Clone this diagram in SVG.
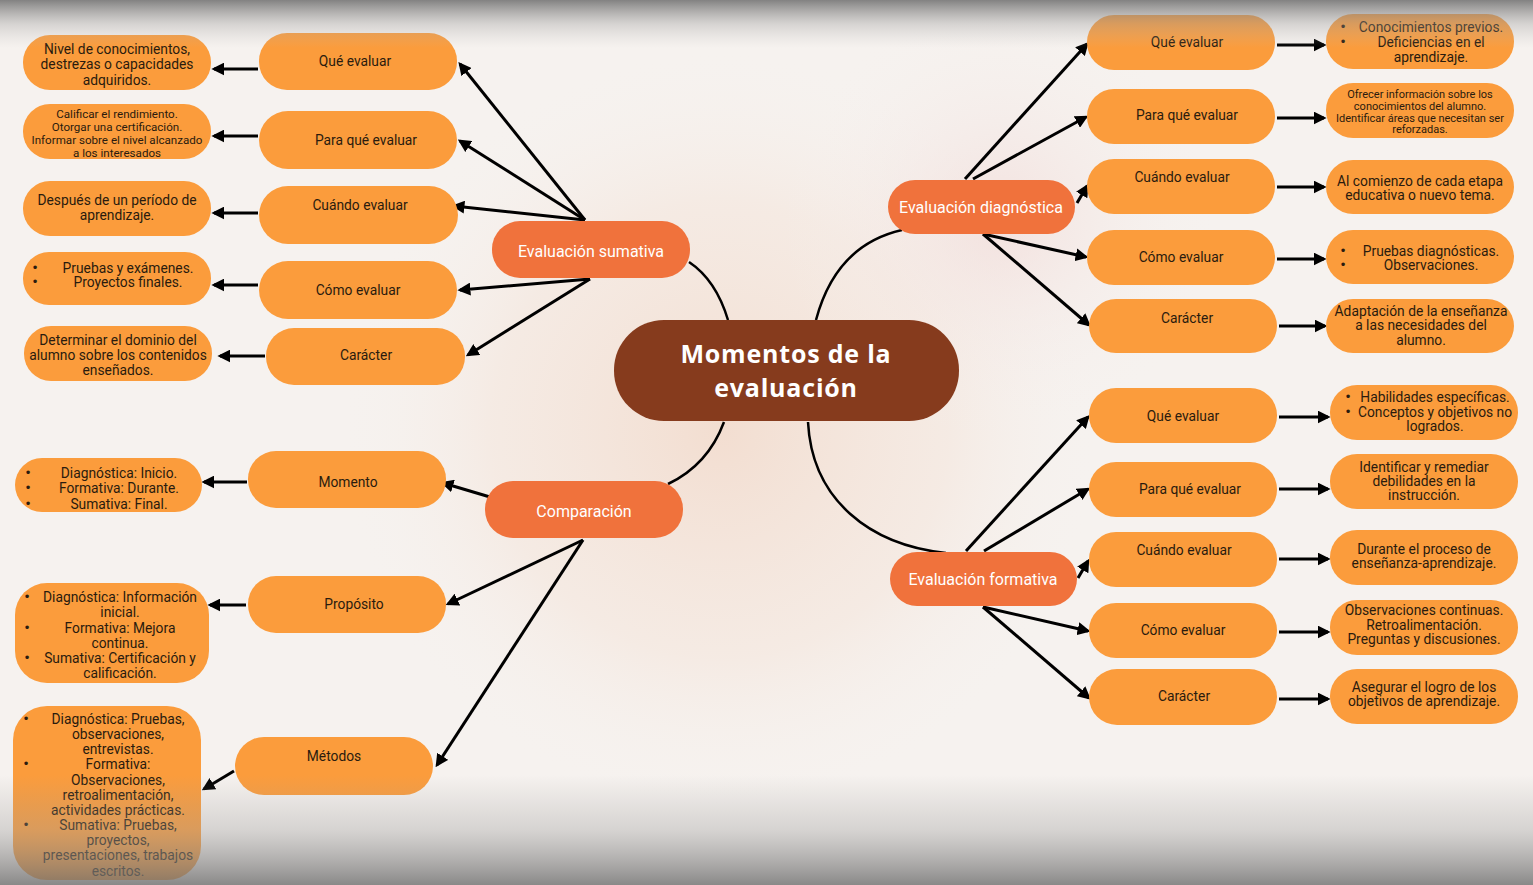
<svg xmlns="http://www.w3.org/2000/svg" width="1533" height="885" viewBox="0 0 1533 885">
<defs>
<radialGradient id="blob1" cx="720" cy="430" r="380" gradientUnits="userSpaceOnUse">
<stop offset="0" stop-color="#f2dacb" stop-opacity="0.85"/>
<stop offset="0.6" stop-color="#f4e3d8" stop-opacity="0.5"/>
<stop offset="1" stop-color="#f6f2ef" stop-opacity="0"/>
</radialGradient>
<radialGradient id="blob2" cx="1000" cy="220" r="220" gradientUnits="userSpaceOnUse">
<stop offset="0" stop-color="#f1d6d3" stop-opacity="0.6"/>
<stop offset="1" stop-color="#f6f2ef" stop-opacity="0"/>
</radialGradient>
<linearGradient id="topShade" x1="0" y1="0" x2="0" y2="1">
<stop offset="0" stop-color="#6e6e6e" stop-opacity="0.85"/>
<stop offset="0.5" stop-color="#9a9a9a" stop-opacity="0.35"/>
<stop offset="1" stop-color="#bdbdbd" stop-opacity="0"/>
</linearGradient>
<linearGradient id="botShade" x1="0" y1="0" x2="0" y2="1">
<stop offset="0" stop-color="#9a9a9a" stop-opacity="0"/>
<stop offset="0.5" stop-color="#9a9a9a" stop-opacity="0.35"/>
<stop offset="1" stop-color="#6e6e6e" stop-opacity="0.8"/>
</linearGradient>
<marker id="ah" viewBox="0 0 10 10" markerUnits="userSpaceOnUse" markerWidth="13" markerHeight="13" refX="8" refY="5" orient="auto">
<path d="M0,0 L10,5 L0,10 z" fill="#000"/>
</marker>
<style>
.sub{fill:#fb9c3c}
.leaf{fill:#fb9c3c}
.cat{fill:#f0723c}
.ctr{fill:#863b1d}
.t{font-family:Roboto,"Liberation Sans",sans-serif;font-size:13.8px;fill:#2a1b0e;text-anchor:middle;dominant-baseline:central}
.ts{font-size:11.6px}
.tx{font-size:11px}
.tc{font-family:Roboto,"Liberation Sans",sans-serif;font-size:16px;fill:#fff;text-anchor:middle;dominant-baseline:central}
.tt{font-family:"Open Sans",Lato,sans-serif;font-weight:700;font-size:25px;letter-spacing:0.8px;fill:#fff;text-anchor:middle;dominant-baseline:central}
.b{font-family:"DejaVu Sans",sans-serif;font-size:12px;fill:#2a1b0e;text-anchor:middle;dominant-baseline:central}
.arr{stroke:#000;stroke-width:3;fill:none;marker-end:url(#ah)}
.crv{stroke:#000;stroke-width:2.5;fill:none}
</style>
</defs>
<rect x="0" y="0" width="1533" height="885" fill="#f6f2ef"/>
<rect x="0" y="0" width="1533" height="885" fill="url(#blob1)"/>
<rect x="0" y="0" width="1533" height="885" fill="url(#blob2)"/>

<g id="connectors">
<path class="crv" d="M689,262 Q716,280 728,320"/>
<path class="crv" d="M816,320 Q836,245 902,230"/>
<path class="crv" d="M724,422 Q708,465 668,484"/>
<path class="crv" d="M808,422 C812,500 870,545 946,553"/>
<line class="arr" x1="585" y1="220" x2="460" y2="64"/>
<line class="arr" x1="585" y1="220" x2="460" y2="141"/>
<line class="arr" x1="585" y1="220" x2="454" y2="206"/>
<line class="arr" x1="590" y1="279" x2="460" y2="290"/>
<line class="arr" x1="590" y1="279" x2="468" y2="355"/>
<line class="arr" x1="258" y1="69" x2="214" y2="69"/>
<line class="arr" x1="258" y1="136" x2="214" y2="136"/>
<line class="arr" x1="258" y1="213" x2="214" y2="213"/>
<line class="arr" x1="258" y1="285" x2="214" y2="285"/>
<line class="arr" x1="265" y1="356" x2="220" y2="356"/>
<line class="arr" x1="490" y1="497" x2="443" y2="483"/>
<line class="arr" x1="583" y1="540" x2="448" y2="604"/>
<line class="arr" x1="583" y1="540" x2="437" y2="765"/>
<line class="arr" x1="247" y1="482" x2="204" y2="482"/>
<line class="arr" x1="246" y1="605" x2="210" y2="605"/>
<line class="arr" x1="234" y1="771" x2="204" y2="789"/>
<line class="arr" x1="965" y1="179" x2="1087" y2="44"/>
<line class="arr" x1="973" y1="179" x2="1086" y2="117"/>
<line class="arr" x1="1077" y1="203" x2="1087" y2="186"/>
<line class="arr" x1="983" y1="234" x2="1086" y2="257"/>
<line class="arr" x1="983" y1="234" x2="1089" y2="325"/>
<line class="arr" x1="1277" y1="45" x2="1324" y2="45"/>
<line class="arr" x1="1277" y1="118" x2="1324" y2="118"/>
<line class="arr" x1="1277" y1="187" x2="1324" y2="187"/>
<line class="arr" x1="1277" y1="259" x2="1324" y2="259"/>
<line class="arr" x1="1279" y1="326" x2="1325" y2="326"/>
<line class="arr" x1="966" y1="551" x2="1088" y2="417"/>
<line class="arr" x1="984" y1="551" x2="1088" y2="489"/>
<line class="arr" x1="1078" y1="578" x2="1088" y2="561"/>
<line class="arr" x1="983" y1="607" x2="1088" y2="631"/>
<line class="arr" x1="983" y1="607" x2="1089" y2="698"/>
<line class="arr" x1="1279" y1="417" x2="1328" y2="417"/>
<line class="arr" x1="1279" y1="489" x2="1328" y2="489"/>
<line class="arr" x1="1279" y1="559" x2="1328" y2="559"/>
<line class="arr" x1="1279" y1="632" x2="1328" y2="632"/>
<line class="arr" x1="1279" y1="699" x2="1328" y2="699"/>
</g>

<g id="center">
<rect class="ctr" x="614" y="320" width="345" height="101" rx="50"/>
<text class="tt" x="786" y="353">Momentos de la</text>
<text class="tt" x="786" y="387">evaluación</text>
</g>

<g id="cat-sumativa"><rect class="cat" x="492" y="221" width="198" height="57" rx="28"/><text class="tc" x="591" y="251">Evaluación sumativa</text></g>
<g id="cat-comparacion"><rect class="cat" x="485" y="481" width="198" height="57" rx="28"/><text class="tc" x="584" y="511">Comparación</text></g>
<g id="cat-diagnostica"><rect class="cat" x="888" y="180" width="187" height="54" rx="27"/><text class="tc" x="981" y="207">Evaluación diagnóstica</text></g>
<g id="cat-formativa"><rect class="cat" x="890" y="552" width="187" height="54" rx="27"/><text class="tc" x="983" y="579">Evaluación formativa</text></g>

<g id="s-que"><rect class="sub" x="259" y="33" width="198" height="57" rx="28"/><text class="t" x="355" y="61">Qué evaluar</text></g>
<g id="s-paraque"><rect class="sub" x="259" y="111" width="198" height="58" rx="29"/><text class="t" x="366" y="140">Para qué evaluar</text></g>
<g id="s-cuando"><rect class="sub" x="259" y="186" width="199" height="58" rx="29"/><text class="t" x="360" y="205">Cuándo evaluar</text></g>
<g id="s-como"><rect class="sub" x="259" y="261" width="198" height="58" rx="29"/><text class="t" x="358" y="290">Cómo evaluar</text></g>
<g id="s-caracter"><rect class="sub" x="266" y="328" width="199" height="57" rx="28"/><text class="t" x="366" y="355">Carácter</text></g>

<g id="sl-que"><rect class="leaf" x="23" y="35" width="188" height="55" rx="27"/>
<text class="t" x="117" y="49">Nivel de conocimientos,</text><text class="t" x="117" y="64">destrezas o capacidades</text><text class="t" x="117" y="80">adquiridos.</text></g>
<g id="sl-paraque"><rect class="leaf" x="23" y="104" width="188" height="55" rx="27"/>
<text class="t ts" x="117" y="114">Calificar el rendimiento.</text><text class="t ts" x="117" y="127">Otorgar una certificación.</text><text class="t ts" x="117" y="140">Informar sobre el nivel alcanzado</text><text class="t ts" x="117" y="153">a los interesados</text></g>
<g id="sl-cuando"><rect class="leaf" x="23" y="181" width="188" height="55" rx="27"/>
<text class="t" x="117" y="200">Después de un período de</text><text class="t" x="117" y="215">aprendizaje.</text></g>
<g id="sl-como"><rect class="leaf" x="23" y="252" width="188" height="53" rx="26"/>
<text class="b" x="35" y="268">•</text><text class="t" x="128" y="268">Pruebas y exámenes.</text>
<text class="b" x="35" y="282">•</text><text class="t" x="128" y="282">Proyectos finales.</text></g>
<g id="sl-caracter"><rect class="leaf" x="24" y="326" width="188" height="55" rx="27"/>
<text class="t" x="118" y="340">Determinar el dominio del</text><text class="t" x="118" y="355">alumno sobre los contenidos</text><text class="t" x="118" y="370">enseñados.</text></g>

<g id="c-momento"><rect class="sub" x="248" y="451" width="198" height="57" rx="28"/><text class="t" x="348" y="482">Momento</text></g>
<g id="c-proposito"><rect class="sub" x="248" y="576" width="198" height="57" rx="28"/><text class="t" x="354" y="604">Propósito</text></g>
<g id="c-metodos"><rect class="sub" x="235" y="737" width="198" height="58" rx="29"/><text class="t" x="334" y="756">Métodos</text></g>

<g id="cl-momento"><rect class="leaf" x="15" y="458" width="187" height="54" rx="27"/>
<text class="b" x="28" y="473">•</text><text class="t" x="119" y="473">Diagnóstica: Inicio.</text>
<text class="b" x="28" y="488">•</text><text class="t" x="119" y="488">Formativa: Durante.</text>
<text class="b" x="28" y="504">•</text><text class="t" x="119" y="504">Sumativa: Final.</text></g>
<g id="cl-proposito"><rect class="leaf" x="15" y="583" width="194" height="100" rx="32"/>
<text class="b" x="27" y="597">•</text><text class="t" x="120" y="597">Diagnóstica: Información</text>
<text class="t" x="120" y="612">inicial.</text>
<text class="b" x="27" y="628">•</text><text class="t" x="120" y="628">Formativa: Mejora</text>
<text class="t" x="120" y="643">continua.</text>
<text class="b" x="27" y="658">•</text><text class="t" x="120" y="658">Sumativa: Certificación y</text>
<text class="t" x="120" y="673">calificación.</text></g>
<g id="cl-metodos"><rect class="leaf" x="13" y="706" width="188" height="174" rx="34"/>
<text class="b" x="26" y="719">•</text><text class="t" x="118" y="719">Diagnóstica: Pruebas,</text>
<text class="t" x="118" y="734">observaciones,</text>
<text class="t" x="118" y="749">entrevistas.</text>
<text class="b" x="26" y="764">•</text><text class="t" x="118" y="764">Formativa:</text>
<text class="t" x="118" y="780">Observaciones,</text>
<text class="t" x="118" y="795">retroalimentación,</text>
<text class="t" x="118" y="810">actividades prácticas.</text>
<text class="b" x="26" y="825">•</text><text class="t" x="118" y="825">Sumativa: Pruebas,</text>
<text class="t" x="118" y="840">proyectos,</text>
<text class="t" x="118" y="855">presentaciones, trabajos</text>
<text class="t" x="118" y="871">escritos.</text></g>

<g id="d-que"><rect class="sub" x="1087" y="15" width="188" height="55" rx="27"/><text class="t" x="1187" y="42">Qué evaluar</text></g>
<g id="d-paraque"><rect class="sub" x="1087" y="89" width="188" height="55" rx="27"/><text class="t" x="1187" y="115">Para qué evaluar</text></g>
<g id="d-cuando"><rect class="sub" x="1087" y="159" width="188" height="55" rx="27"/><text class="t" x="1182" y="177">Cuándo evaluar</text></g>
<g id="d-como"><rect class="sub" x="1087" y="230" width="188" height="55" rx="27"/><text class="t" x="1181" y="257">Cómo evaluar</text></g>
<g id="d-caracter"><rect class="sub" x="1089" y="299" width="188" height="54" rx="27"/><text class="t" x="1187" y="318">Carácter</text></g>

<g id="dl-que"><rect class="leaf" x="1326" y="14" width="188" height="55" rx="27"/>
<text class="b" x="1343" y="27">•</text><text class="t" x="1431" y="27">Conocimientos previos.</text>
<text class="b" x="1343" y="42">•</text><text class="t" x="1431" y="42">Deficiencias en el</text>
<text class="t" x="1431" y="57">aprendizaje.</text></g>
<g id="dl-paraque"><rect class="leaf" x="1326" y="83" width="188" height="55" rx="27"/>
<text class="t tx" x="1420" y="94">Ofrecer información sobre los</text><text class="t tx" x="1420" y="106">conocimientos del alumno.</text><text class="t tx" x="1420" y="118">Identificar áreas que necesitan ser</text><text class="t tx" x="1420" y="129">reforzadas.</text></g>
<g id="dl-cuando"><rect class="leaf" x="1326" y="160" width="188" height="54" rx="27"/>
<text class="t" x="1420" y="181">Al comienzo de cada etapa</text><text class="t" x="1420" y="195">educativa o nuevo tema.</text></g>
<g id="dl-como"><rect class="leaf" x="1326" y="230" width="188" height="54" rx="27"/>
<text class="b" x="1343" y="251">•</text><text class="t" x="1431" y="251">Pruebas diagnósticas.</text>
<text class="b" x="1343" y="265">•</text><text class="t" x="1431" y="265">Observaciones.</text></g>
<g id="dl-caracter"><rect class="leaf" x="1326" y="299" width="188" height="54" rx="27"/>
<text class="t" x="1421" y="311">Adaptación de la enseñanza</text><text class="t" x="1421" y="325">a las necesidades del</text><text class="t" x="1421" y="340">alumno.</text></g>

<g id="f-que"><rect class="sub" x="1089" y="388" width="188" height="55" rx="27"/><text class="t" x="1183" y="416">Qué evaluar</text></g>
<g id="f-paraque"><rect class="sub" x="1089" y="462" width="188" height="55" rx="27"/><text class="t" x="1190" y="489">Para qué evaluar</text></g>
<g id="f-cuando"><rect class="sub" x="1089" y="532" width="188" height="55" rx="27"/><text class="t" x="1184" y="550">Cuándo evaluar</text></g>
<g id="f-como"><rect class="sub" x="1089" y="603" width="188" height="55" rx="27"/><text class="t" x="1183" y="630">Cómo evaluar</text></g>
<g id="f-caracter"><rect class="sub" x="1089" y="669" width="188" height="56" rx="28"/><text class="t" x="1184" y="696">Carácter</text></g>

<g id="fl-que"><rect class="leaf" x="1330" y="385" width="188" height="55" rx="27"/>
<text class="b" x="1348" y="397">•</text><text class="t" x="1435" y="397">Habilidades específicas.</text>
<text class="b" x="1348" y="412">•</text><text class="t" x="1435" y="412">Conceptos y objetivos no</text>
<text class="t" x="1435" y="426">logrados.</text></g>
<g id="fl-paraque"><rect class="leaf" x="1330" y="454" width="188" height="55" rx="27"/>
<text class="t" x="1424" y="467">Identificar y remediar</text><text class="t" x="1424" y="481">debilidades en la</text><text class="t" x="1424" y="495">instrucción.</text></g>
<g id="fl-cuando"><rect class="leaf" x="1330" y="530" width="188" height="55" rx="27"/>
<text class="t" x="1424" y="549">Durante el proceso de</text><text class="t" x="1424" y="563">enseñanza-aprendizaje.</text></g>
<g id="fl-como"><rect class="leaf" x="1330" y="600" width="188" height="55" rx="27"/>
<text class="t" x="1424" y="610">Observaciones continuas.</text><text class="t" x="1424" y="625">Retroalimentación.</text><text class="t" x="1424" y="639">Preguntas y discusiones.</text></g>
<g id="fl-caracter"><rect class="leaf" x="1330" y="669" width="188" height="55" rx="27"/>
<text class="t" x="1424" y="687">Asegurar el logro de los</text><text class="t" x="1424" y="701">objetivos de aprendizaje.</text></g>

<rect x="0" y="0" width="1533" height="48" fill="url(#topShade)"/>
<rect x="0" y="775" width="1533" height="110" fill="url(#botShade)"/>
</svg>
